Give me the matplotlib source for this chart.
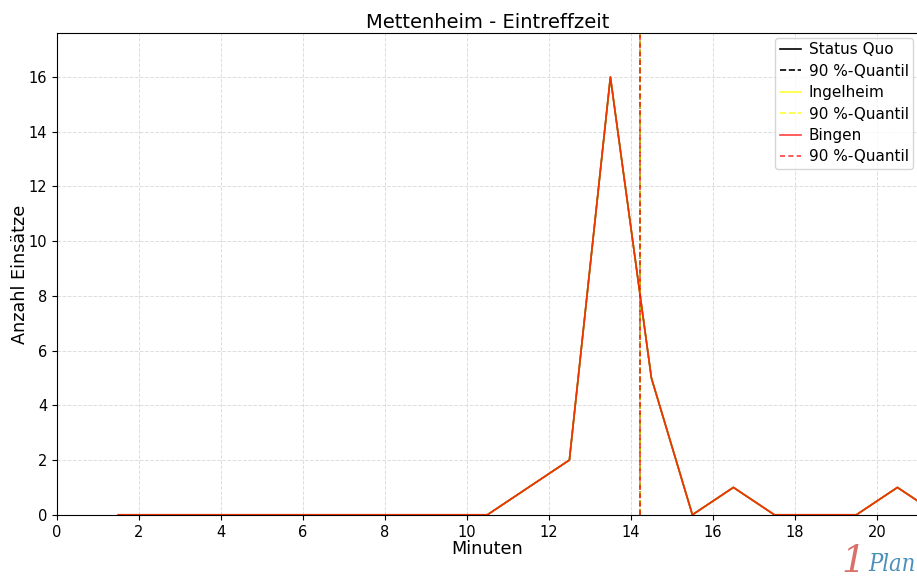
import matplotlib
matplotlib.use("Agg")
import matplotlib.pyplot as plt

minutes = [1.5, 2.5, 3.5, 4.5, 5.5, 6.5, 7.5, 8.5, 9.5, 10.5, 11.5, 12.5,
           13.5, 14.5, 15.5, 16.5, 17.5, 18.5, 19.5, 20.5, 21.5]
status_quo = [0, 0, 0, 0, 0, 0, 0, 0, 0, 0, 1, 2, 16, 5, 0, 1, 0, 0, 0, 1, 0]
ingelheim = [0, 0, 0, 0, 0, 0, 0, 0, 0, 0, 1, 2, 16, 5, 0, 1, 0, 0, 0, 1, 0]
bingen = [0, 0, 0, 0, 0, 0, 0, 0, 0, 0, 1, 2, 16, 5, 0, 1, 0, 0, 0, 1, 0]
q90_status_quo = 14.22
q90_ingelheim = 14.22
q90_bingen = 14.22

fig = plt.figure(figsize=(9.17, 5.83), dpi=100)
ax = fig.add_axes([0.062, 0.117, 0.939, 0.826])

ax.plot(minutes, status_quo, color="black", lw=1.2, label="Status Quo")
ax.axvline(q90_status_quo, color="black", ls="--", lw=1.2, label="90 %-Quantil")
ax.plot(minutes, ingelheim, color="yellow", lw=1.2, alpha=0.8, label="Ingelheim")
ax.axvline(q90_ingelheim, color="yellow", ls="--", lw=1.2, alpha=0.8, label="90 %-Quantil")
ax.plot(minutes, bingen, color="red", lw=1.2, alpha=0.75, label="Bingen")
ax.axvline(q90_bingen, color="red", ls="--", lw=1.2, alpha=0.75, label="90 %-Quantil",
           dashes=(3, 2))

ax.set_xlim(0, 21)
ax.set_ylim(0, 17.6)
ax.set_xticks(range(0, 21, 2))
ax.set_yticks(range(0, 17, 2))
ax.tick_params(labelsize=10.5)
ax.grid(True, color="#dddddd", ls="--", lw=0.7)
ax.set_axisbelow(True)
ax.set_title("Mettenheim - Eintreffzeit", fontsize=14, pad=4)
ax.set_xlabel("Minuten", fontsize=12.7, labelpad=0)
ax.set_ylabel("Anzahl Einsätze", fontsize=12.7, labelpad=0)
ax.legend(loc="upper right", fontsize=11, handlelength=1.4, handletextpad=0.5,
          borderpad=0.3, labelspacing=0.42, borderaxespad=0.3)

fig.text(0.918, 0.005, "1", color="#d9706a", fontsize=27, style="italic",
         ha="left", va="bottom", family="DejaVu Serif")
fig.text(0.947, 0.012, "Plan", color="#4a90b8", fontsize=17, style="italic",
         ha="left", va="bottom", family="DejaVu Serif", stretch="condensed")

fig.savefig("out.png", dpi=100)
